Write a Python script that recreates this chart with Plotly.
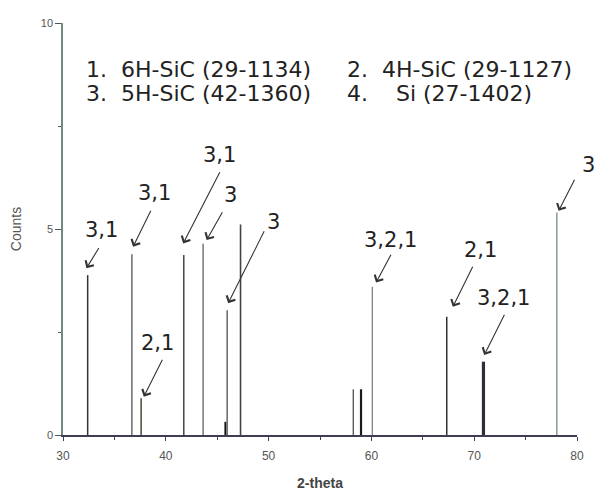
import plotly.graph_objects as go

# Peak positions (2-theta) and intensities (counts)
peak_x = [32.4, 36.7, 37.6, 41.75, 43.63, 45.8, 45.97, 47.27, 58.24, 58.99, 60.09, 67.33, 70.9, 78.04]
peak_y = [3.88, 4.39, 0.89, 4.37, 4.64, 0.32, 3.03, 5.11, 1.11, 1.11, 3.60, 2.87, 1.78, 5.40]
peak_colors = ["#333333", "#6a6a6a", "#4a4a3a", "#444444", "#777777", "#111111", "#666666",
               "#444444", "#5a5a5a", "#1a1a1a", "#7a7a7a", "#333333", "#2e2e3a", "#7a8a82"]
peak_widths = [1.5, 1.5, 1.5, 1.5, 1.5, 2, 1.5, 1.6, 1.4, 2.2, 1.2, 1.5, 3.2, 1.3]

# Peak labels: text and the peak top the arrow points to (data)
labels = ["3,1", "3,1", "2,1", "3,1", "3", "3", "3,2,1", "2,1", "3,2,1", "3"]
label_x = [32.28, 36.82, 37.86, 41.69, 43.97, 46.07, 60.45, 67.92, 70.97, 78.21]
label_y = [4.05, 4.57, 0.93, 4.65, 4.73, 3.20, 3.70, 3.11, 1.94, 5.44]

legend_lines = ["1.&nbsp;&nbsp;6H-SiC (29-1134)", "2.&nbsp;&nbsp;4H-SiC (29-1127)",
                "3.&nbsp;&nbsp;5H-SiC (42-1360)", "4.&nbsp;&nbsp;&nbsp;&nbsp;Si (27-1402)"]

x_ticks = [30, 40, 50, 60, 70, 80]
y_ticks = [0, 5, 10]

# arrow tail offsets and text offsets (pixels)
arrow_off = [(13.3, -21.6), (18.4, -37.4), (19.3, -38.4), (37.4, -72.6), (16.6, -29.3),
             (36.7, -73.3), (15.7, -29.4), (20.6, -41.7), (21.0, -41.7), (16.7, -32.7)]
text_off = [(15.0, 38.3), (21.7, 53.4), (13.3, 53.4), (36.7, 88.3), (24.0, 45.0),
            (45.0, 81.3), (14.0, 42.7), (27.3, 56.7), (19.3, 56.7), (30.0, 46.0)]

fig = go.Figure()
for px, py, pc, pw in zip(peak_x, peak_y, peak_colors, peak_widths):
    fig.add_trace(go.Scatter(x=[px, px], y=[0, py], mode="lines",
                             line=dict(color=pc, width=pw), showlegend=False,
                             hoverinfo="x+y"))

annotations = []
label_font = dict(family="DejaVu Sans", size=21, color="#222222")
legend_font = dict(family="DejaVu Sans", size=22, color="#222222")
for t, hx, hy, (ax, ay), (tx, ty) in zip(labels, label_x, label_y, arrow_off, text_off):
    annotations.append(dict(x=hx, y=hy, xref="x", yref="y", text="", showarrow=True,
                            ax=ax, ay=ay, arrowhead=4, arrowsize=1.7, arrowwidth=1.1,
                            arrowcolor="#333333", standoff=0, startstandoff=0))
    annotations.append(dict(x=hx, y=hy, xref="x", yref="y", text=t, showarrow=False,
                            xshift=tx, yshift=ty, xanchor="center", yanchor="middle",
                            font=label_font))

leg_pos = [(32.0, 8.88), (57.4, 8.88), (32.0, 8.30), (57.4, 8.30)]
for txt, (lx, ly) in zip(legend_lines, leg_pos):
    annotations.append(dict(x=lx, y=ly, xref="x", yref="y", text=txt, showarrow=False,
                            xanchor="left", yanchor="middle", font=legend_font))

fig.update_layout(
    width=594, height=492,
    margin=dict(l=63, r=17, t=23, b=57),
    paper_bgcolor="white", plot_bgcolor="white",
    annotations=annotations,
    xaxis=dict(range=[30, 80], tickvals=x_ticks, ticks="outside", ticklen=4, tickwidth=1.2,
               tickcolor="#3d3d55", showline=True, linecolor="#3d3d55", linewidth=1.5,
               showgrid=False, zeroline=False, ticklabelstandoff=5, automargin=False,
               minor=dict(dtick=5, ticks="outside", ticklen=3, tickcolor="#3d3d55"),
               tickfont=dict(family="Liberation Sans", size=12, color="#555555"),
               title=dict(text="<b>2-theta</b>", standoff=16,
                          font=dict(family="Liberation Sans", size=14, color="#444444"))),
    yaxis=dict(range=[0, 10], tickvals=y_ticks, ticks="outside", ticklen=6, tickwidth=1.2,
               tickcolor="#555555", showline=True, linecolor="#6e8b7d", linewidth=1.5,
               showgrid=False, zeroline=False, automargin=False,
               minor=dict(dtick=2.5, ticks="outside", ticklen=3, tickcolor="#555555"),
               tickfont=dict(family="Liberation Sans", size=11, color="#555555"),
               title=dict(text="Counts", standoff=16,
                          font=dict(family="Liberation Sans", size=14, color="#555555"))),
)

fig.write_html("out.html")
